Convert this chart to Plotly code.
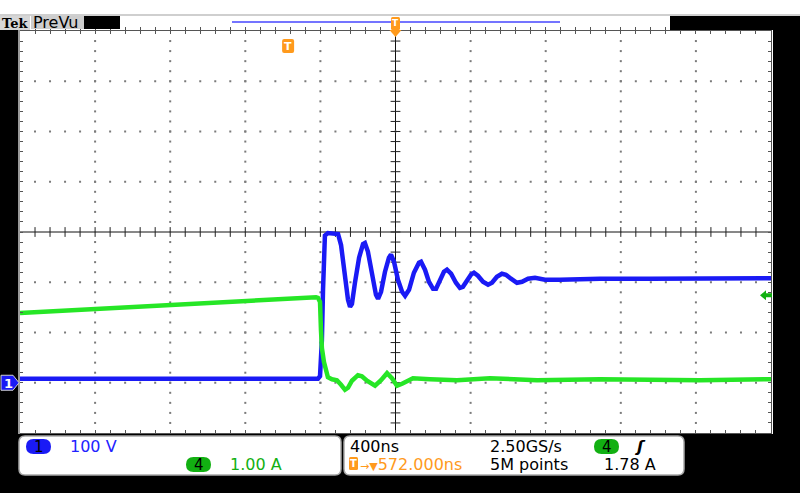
import plotly.graph_objects as go

# ---------------- values ----------------
time_per_div_ns = 400
trigger_delay_ns = 572          # expansion point (screen centre) relative to trigger
ch1_volts_per_div = 100
ch4_amps_per_div = 1.0
ground_position_div = -3        # both channels sit 3 div below centre
trigger_level_a = 1.78

ch1_time_ns = [-1428, -1000, -470, 159, 170, 180, 186, 196, 212, 244, 266, 282, 303, 319, 330, 340,
               356, 378, 399, 409, 425, 447, 468, 479, 495, 516, 537, 548, 564, 585, 607, 623, 644,
               670, 697, 708, 729, 750, 772, 788, 809, 830, 846, 868, 894, 915, 931, 953, 974, 990,
               1011, 1038, 1065, 1086, 1112, 1139, 1160, 1187, 1219, 1246, 1278, 1315, 1368, 1448,
               1661, 1927, 2194, 2572]
ch1_volts = [8, 8, 9, 8, 13, 85, 185, 293, 298, 296, 296, 274, 214, 165, 151, 157,
             199, 249, 276, 278, 261, 215, 175, 167, 181, 221, 249, 255, 241, 205, 181, 173, 185,
             219, 239, 241, 225, 201, 187, 187, 205, 221, 225, 217, 199, 189, 191, 205, 215, 219,
             213, 201, 195, 199, 211, 217, 215, 207, 199, 201, 207, 209, 205, 205,
             207, 207, 207, 208]

ch4_time_ns = [-1428, -895, -363, 149, 159, 170, 175, 180, 191, 202, 212, 234, 260, 282, 303, 319,
               340, 372, 393, 420, 463, 495, 527, 553, 580, 607, 665, 756, 900, 1075, 1326, 1661,
               2194, 2572]
ch4_amps = [1.39, 1.50, 1.60, 1.70, 1.69, 1.61, 1.05, 0.69, 0.41, 0.21, 0.11, 0.07, 0.05, -0.04,
            -0.14, -0.10, 0.04, 0.15, 0.13, 0.04, -0.06, 0.05, 0.19, 0.09, -0.06, -0.02, 0.09,
            0.07, 0.05, 0.09, 0.05, 0.07, 0.05, 0.07]

readout_ch1 = "100 V"
readout_ch4 = "1.00 A"
readout_timebase = "400ns"
readout_rate = "2.50GS/s"
readout_delay = "572.000ns"
readout_points = "5M points"
readout_trig = "1.78 A"

# ---------------- layout geometry ----------------
W, H = 800, 493
L, R, T, B = 20, 29, 31, 60
PW, PH = W - L - R, H - T - B

HDIV, VDIV = 10, 8
x_min = trigger_delay_ns - HDIV / 2 * time_per_div_ns
x_max = trigger_delay_ns + HDIV / 2 * time_per_div_ns
v_center = -ground_position_div * ch1_volts_per_div
v_min, v_max = v_center - VDIV / 2 * ch1_volts_per_div, v_center + VDIV / 2 * ch1_volts_per_div
a_center = -ground_position_div * ch4_amps_per_div
a_min, a_max = a_center - VDIV / 2 * ch4_amps_per_div, a_center + VDIV / 2 * ch4_amps_per_div


def px(x):
    return (x - L) / PW


def py(y):
    return (H - B - y) / PH


def rrect(x0, y0, x1, y1, r):
    return (f"M {px(x0 + r)},{py(y0)} L {px(x1 - r)},{py(y0)} Q {px(x1)},{py(y0)} {px(x1)},{py(y0 + r)} "
            f"L {px(x1)},{py(y1 - r)} Q {px(x1)},{py(y1)} {px(x1 - r)},{py(y1)} "
            f"L {px(x0 + r)},{py(y1)} Q {px(x0)},{py(y1)} {px(x0)},{py(y1 - r)} "
            f"L {px(x0)},{py(y0 + r)} Q {px(x0)},{py(y0)} {px(x0 + r)},{py(y0)} Z")


def poly(pts):
    return "M " + " L ".join(f"{px(a)},{py(b)}" for a, b in pts) + " Z"


shapes = []
annotations = []


def rect(x0, y0, x1, y1, fill, line=None, lw=0, layer="above"):
    shapes.append(dict(type="rect", xref="paper", yref="paper", x0=px(x0), x1=px(x1), y0=py(y1), y1=py(y0),
                       fillcolor=fill, line=dict(width=lw, color=line or fill), layer=layer))


def path(p, fill, line=None, lw=0):
    shapes.append(dict(type="path", xref="paper", yref="paper", path=p, fillcolor=fill,
                       line=dict(width=lw, color=line or fill), layer="above"))


def label(x, y, text, color, size=16, anchor="left", family="DejaVu Sans"):
    annotations.append(dict(xref="paper", yref="paper", x=px(x), y=py(y), text=text, showarrow=False,
                            xanchor=anchor, yanchor="middle", borderpad=0,
                            font=dict(family=family, size=size, color=color)))


def pill(x0, y0, x1, y1, fill, text):
    path(rrect(x0, y0, x1, y1, (y1 - y0) / 2), fill)
    label((x0 + x1) / 2, (y0 + y1) / 2 + 0.5, text, "black", size=15, anchor="center")


BLUE = "#1a1af5"
GREEN = "#26e626"
PILL_GREEN = "#12b012"
ORANGE = "#ff9a1c"

fig = go.Figure()

# grid dots (every 1/5 division along each interior division line)
gx, gy = [], []
for k in range(1, HDIV):
    if k == HDIV // 2:
        continue
    xv = x_min + k * time_per_div_ns
    for m in range(1, VDIV * 5):
        gx.append(xv)
        gy.append(v_min + m * ch1_volts_per_div / 5)
for j in range(1, VDIV):
    if j == VDIV // 2:
        continue
    yv = v_min + j * ch1_volts_per_div
    for m in range(1, HDIV * 5):
        gx.append(x_min + m * time_per_div_ns / 5)
        gy.append(yv)
fig.add_trace(go.Scatter(x=gx, y=gy, mode="markers", hoverinfo="skip",
                         marker=dict(symbol="square", size=2, color="#7a7a7a", line=dict(width=0))))

# centre cross ticks
cx = [x_min + m * time_per_div_ns / 5 for m in range(1, HDIV * 5)]
fig.add_trace(go.Scatter(x=cx, y=[v_center] * len(cx), mode="markers", hoverinfo="skip",
                         marker=dict(symbol="line-ns", size=7, line=dict(width=1, color="#222"))))
cy = [v_min + m * ch1_volts_per_div / 5 for m in range(1, VDIV * 5)]
fig.add_trace(go.Scatter(x=[trigger_delay_ns] * len(cy), y=cy, mode="markers", hoverinfo="skip",
                         marker=dict(symbol="line-ew", size=7, line=dict(width=1, color="#222"))))

shapes.append(dict(type="line", xref="x", yref="paper", x0=trigger_delay_ns, x1=trigger_delay_ns, y0=0, y1=1,
                   line=dict(color="#111", width=1), layer="below"))
shapes.append(dict(type="line", xref="paper", yref="y", x0=0, x1=1, y0=v_center, y1=v_center,
                   line=dict(color="#111", width=1), layer="below"))

# waveforms
fig.add_trace(go.Scatter(x=ch4_time_ns, y=ch4_amps, yaxis="y2", mode="lines", hoverinfo="skip",
                         line=dict(color=GREEN, width=4.5)))
fig.add_trace(go.Scatter(x=ch1_time_ns, y=ch1_volts, mode="lines", hoverinfo="skip",
                         line=dict(color=BLUE, width=4.5)))

# ---------------- frame decorations ----------------
rect(0, 14, 800, 16, "#cfcfcf")
rect(0, 16, 30, 30, "#d6d6d6")
rect(31, 16, 84, 29, "#cdcdcd")
rect(84, 16, 120, 29, "black")
rect(670, 16, 800, 30, "black")
rect(773, 16, 800, 493, "black")
rect(0, 30, 18, 493, "black")
rect(18, 30, 20, 434, "#9a9a9a")
rect(0, 434, 800, 493, "black")
shapes.append(dict(type="line", xref="paper", yref="paper", x0=px(232), x1=px(560), y0=py(22), y1=py(22),
                   line=dict(color="#4646ff", width=1.5)))

label(29, 23, "<b>Tek</b>", "black", size=13, anchor="right", family="DejaVu Serif")
label(32, 22.5, "PreVu", "black", size=16)

# trigger position marker (T) in the graticule and expansion-point marker on the top bar
t_px = L + (0 - x_min) / (x_max - x_min) * PW
path(rrect(t_px - 6, 39, t_px + 6, 53, 2), ORANGE)
label(t_px, 46.5, "<b>T</b>", "white", size=11, anchor="center")
c_px = L + (trigger_delay_ns - x_min) / (x_max - x_min) * PW
path(rrect(c_px - 4.5, 17, c_px + 4.5, 30, 1.5), ORANGE)
label(c_px, 23, "<b>T</b>", "white", size=9, anchor="center")
path(poly([(c_px - 6, 30), (c_px + 6, 30), (c_px, 37)]), ORANGE)

# channel 1 ground marker
g_px = T + (v_max - 0) / (v_max - v_min) * PH
path(poly([(1, g_px - 7.5), (13, g_px - 7.5), (19, g_px), (13, g_px + 7.5), (1, g_px + 7.5)]), BLUE, "#d0d0d0", 1)
label(8, g_px + 0.5, "<b>1</b>", "white", size=13, anchor="center")

# trigger level arrow (ch4)
lv_px = T + (a_max - trigger_level_a) / (a_max - a_min) * PH + 2
path(poly([(760, lv_px), (766, lv_px - 5), (766, lv_px - 2), (772, lv_px - 2), (772, lv_px + 2),
           (766, lv_px + 2), (766, lv_px + 5)]), PILL_GREEN)

# readout panels
path(rrect(19, 436, 341, 475, 6), "white", "#a8a8a8", 1.5)
path(rrect(344, 436, 684, 475, 6), "white", "#a8a8a8", 1.5)
pill(26, 439, 51, 454, BLUE, "1")
label(69, 446.5, readout_ch1, "#2222ff")
pill(186, 457, 211, 472, PILL_GREEN, "4")
label(229, 464.5, readout_ch4, PILL_GREEN)
label(349, 446.5, readout_timebase, "black")
label(489, 446.5, readout_rate, "black")
pill(594, 439, 619, 454, PILL_GREEN, "4")
label(633, 446.5, "<b><i>ʃ</i></b>", "black")
path(rrect(349, 457, 358, 470, 1.5), ORANGE)
label(353.5, 463.5, "<b>T</b>", "white", size=10, anchor="center")
label(359, 464.5, "<span style='font-size:11px'>→▼</span>" + readout_delay, ORANGE)
label(489, 464.5, readout_points, "black")
label(603, 464.5, readout_trig, "black")

axis_common = dict(showgrid=False, zeroline=False, showticklabels=False, ticks="inside", ticklen=3,
                   tickcolor="#555", showline=True, linecolor="#555", linewidth=1, mirror="allticks")
fig.update_layout(
    width=W, height=H, margin=dict(l=L, r=R, t=T, b=B, pad=0),
    paper_bgcolor="white", plot_bgcolor="white", showlegend=False,
    xaxis=dict(range=[x_min, x_max], tick0=x_min, dtick=time_per_div_ns / 5, **axis_common),
    yaxis=dict(range=[v_min, v_max], tick0=v_min, dtick=ch1_volts_per_div / 5, **axis_common),
    yaxis2=dict(range=[a_min, a_max], overlaying="y", visible=False),
    shapes=shapes, annotations=annotations,
)

fig.write_html("out.html", config={"displayModeBar": False},
               post_script="document.body.style.margin='0';document.body.style.overflow='hidden';")
